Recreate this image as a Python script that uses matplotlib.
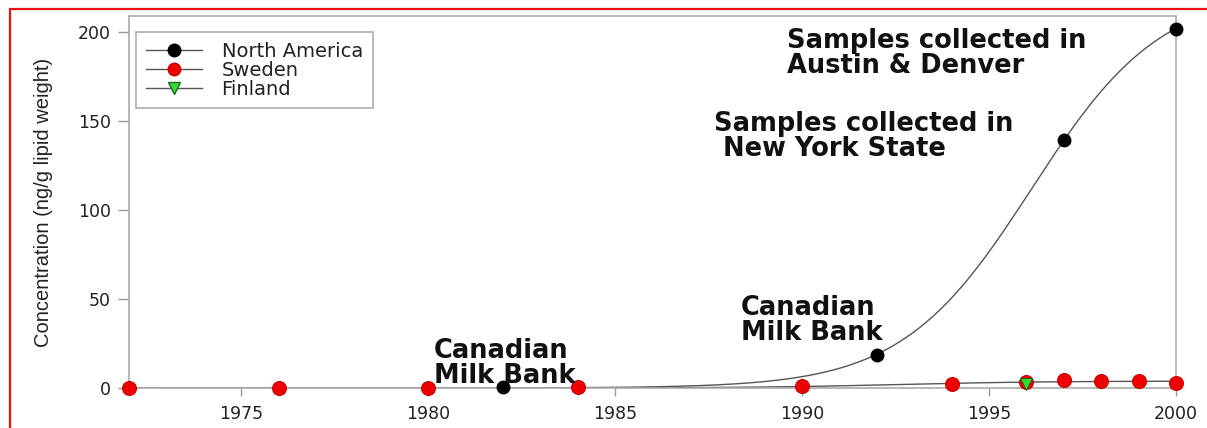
import numpy as np
import matplotlib
matplotlib.use("Agg")
import matplotlib.pyplot as plt
from matplotlib.lines import Line2D
from matplotlib.patches import Rectangle

# ---- data ----
na_years = [1982, 1992, 1997, 2000]
na_values = [0.3, 18.5, 139.5, 201.5]

se_years = [1972, 1976, 1980, 1984, 1990, 1994, 1996, 1997, 1998, 1999, 2000]
se_values = [0.0, 0.0, 0.0, 0.5, 1.0, 2.2, 3.3, 4.3, 4.0, 3.8, 3.0]

fi_years = [1996]
fi_values = [2.4]

series_labels = ["North America", "Sweden", "Finland"]
x_ticks = [1975, 1980, 1985, 1990, 1995, 2000]
y_ticks = [0, 50, 100, 150, 200]

annotations = [
    ("Canadian\nMilk Bank", 1982.05, 28.0, "center"),
    ("Canadian\nMilk Bank", 1990.25, 52.0, "center"),
    ("Samples collected in\n New York State", 1987.65, 155.5, "left"),
    ("Samples collected in\nAustin & Denver", 1989.6, 202.0, "left"),
]


def logistic_fit(x, y):
    """Least-squares 3-parameter logistic fit by grid search."""
    x = np.asarray(x, float)
    y = np.asarray(y, float)
    a_grid = np.linspace(y.max() * 0.9, y.max() * 1.6, 120)
    x0_grid = np.linspace(x.min(), x.max() + 3, 200)
    s_grid = np.linspace(0.3, 6.0, 100)
    A, X0, S = np.meshgrid(a_grid, x0_grid, s_grid, indexing="ij")
    sse = np.zeros_like(A)
    for xi, yi in zip(x, y):
        sse += (A / (1 + np.exp(-(xi - X0) / S)) - yi) ** 2
    i = np.unravel_index(np.argmin(sse), sse.shape)
    return A[i], X0[i], S[i]


def logistic(x, a, x0, s):
    return a / (1 + np.exp(-(x - x0) / s))


fig = plt.figure(figsize=(12.07, 4.28), dpi=100)
ax = fig.add_axes([129 / 1207, 1 - 388 / 428, (1176 - 129) / 1207, (388 - 16) / 428])

line_col = "#555555"
xs = np.linspace(1972, 2000, 600)

# fitted curves
pa = logistic_fit(na_years, na_values)
ax.plot(xs[xs >= 1982], logistic(xs[xs >= 1982], *pa), color=line_col, lw=1.0, zorder=2)
ps = logistic_fit(se_years, se_values)
ax.plot(xs, logistic(xs, *ps), color=line_col, lw=1.0, zorder=2)

# markers
ax.plot(se_years, se_values, ls="none", marker="o", ms=10, mfc="#ee0000",
        mec="#cc0000", mew=0.8, clip_on=False, zorder=3)
ax.plot(na_years, na_values, ls="none", marker="o", ms=9, mfc="black",
        mec="black", clip_on=False, zorder=4)
ax.plot(fi_years, fi_values, ls="none", marker="v", ms=9, mfc="#33dd33",
        mec="#226622", mew=0.8, clip_on=False, zorder=5)

ax.set_xlim(1972, 2000)
ax.set_ylim(0, 209)
ax.set_xticks(x_ticks)
ax.set_yticks(y_ticks)
ax.tick_params(direction="out", width=1, color="#999999",
               labelsize=12.5, labelcolor="#222222")
ax.tick_params(axis="x", length=6, pad=6)
ax.tick_params(axis="y", length=8, pad=5)
for sp in ax.spines.values():
    sp.set_color("#aaaaaa")
    sp.set_linewidth(1.2)

ax.set_ylabel("Concentration (ng/g lipid weight)", fontsize=14.5,
              family="Liberation Sans", color="#222222", labelpad=18)

for text, x, y, ha in annotations:
    ax.text(x, y, text, ha=ha, va="top", multialignment="left",
            fontsize=18.5, fontweight="bold", family="DejaVu Sans",
            linespacing=0.93, color="#111111", zorder=6)

# legend
handles = [
    Line2D([], [], color=line_col, lw=1, marker="o", ms=9, mfc="black", mec="black"),
    Line2D([], [], color=line_col, lw=1, marker="o", ms=9, mfc="#ee0000", mec="#cc0000"),
    Line2D([], [], color=line_col, lw=1, marker="v", ms=9, mfc="#33dd33", mec="#226622"),
]
leg = ax.legend(handles, series_labels, loc="upper left",
                bbox_to_anchor=((136 - 129) / 1047, (388 - 32) / 372),
                borderaxespad=0, fontsize=14, frameon=True, fancybox=False,
                handlelength=2.9, handletextpad=1.0, labelspacing=0.0,
                borderpad=0.5)
leg.get_frame().set_edgecolor("#999999")
leg.get_frame().set_linewidth(1.2)
for t in leg.get_texts():
    t.set_color("#222222")

# red border around the figure
fig.patches.append(Rectangle((10 / 1207, -0.05), 1.2, 1 - 9 / 428 + 0.05,
                             transform=fig.transFigure, fill=False,
                             edgecolor="#ee1111", lw=1.6))

fig.savefig("out.png", dpi=100)
